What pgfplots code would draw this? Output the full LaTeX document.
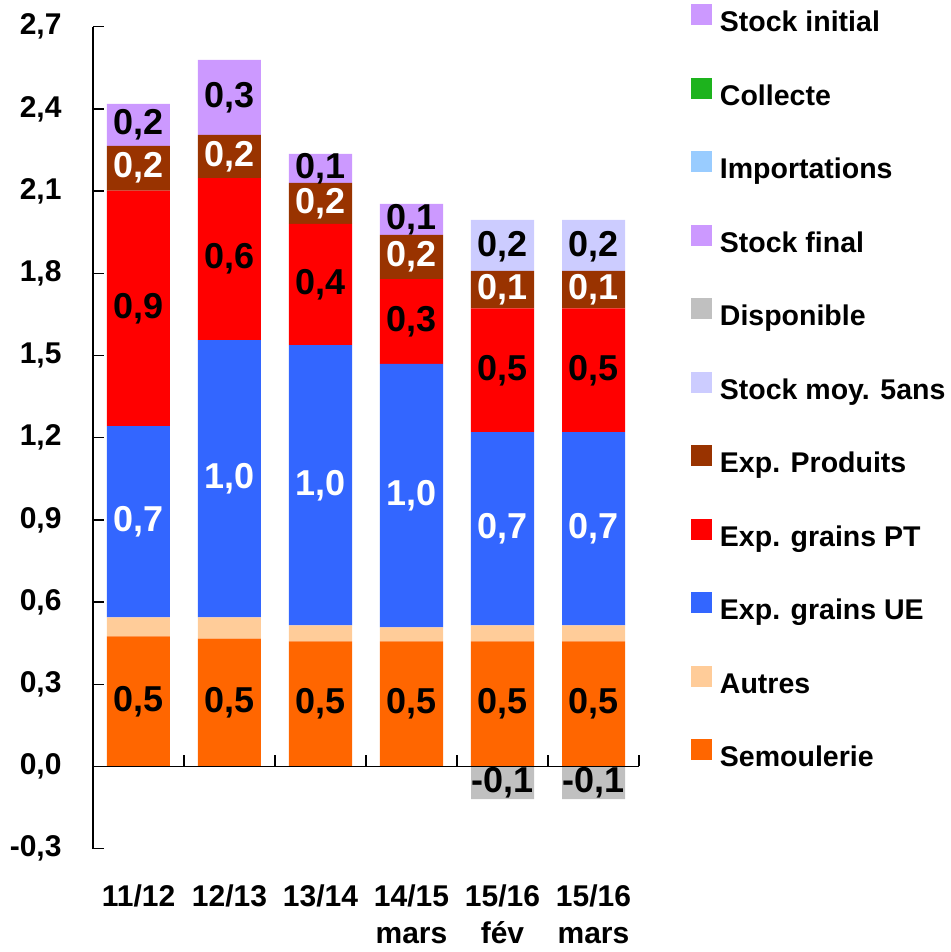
\documentclass[border=0pt]{standalone}
\usepackage{fontspec}
\setmainfont{Liberation Sans}
\usepackage{pgfplots}
\pgfplotsset{compat=1.18}
\definecolor{csem}{HTML}{FF6600}
\definecolor{caut}{HTML}{FFCC99}
\definecolor{cue}{HTML}{3366FF}
\definecolor{cpt}{HTML}{FF0000}
\definecolor{cprod}{HTML}{993300}
\definecolor{cstock}{HTML}{CC99FF}
\definecolor{cdisp}{HTML}{C0C0C0}
\definecolor{cmoy}{HTML}{CCCCFF}
\definecolor{cimp}{HTML}{99CCFF}
\definecolor{ccol}{HTML}{1DB31D}
\pgfplotsset{
  base/.style={
    at={(0pt,0pt)}, anchor=south west,
    scale only axis, width=546pt, height=822pt,
    xmin=-0.5, xmax=5.5, ymin=-0.3, ymax=2.7,
  },
  lab/.style={forget plot, draw=none, mark=none, nodes near coords,
    point meta=explicit symbolic,
    every node near coord/.append style={anchor=center, inner sep=0pt,
      font=\fontsize{36}{36}\selectfont\bfseries, text=#1}},
}
\begin{document}
\begin{tikzpicture}
\useasboundingbox (-93pt,-103.3pt) rectangle (857pt,848.7pt);
% axis A: Disponible, x tick labels, legend
\begin{axis}[base,
  axis x line*=bottom, axis y line=none,
  x axis line style={draw=none},
  xtick={0,...,5},
  xticklabels={11/12,12/13,13/14,{14/15\\mars},{15/16\\fév},{15/16\\mars}},
  x tick style={draw=none},
  xticklabel style={font=\fontsize{30}{37}\selectfont\bfseries, align=center, yshift=-33pt},
  legend style={at={(1.0952,1.0275)}, anchor=north west, draw=none, fill=none,
    inner sep=0pt, outer sep=0pt,
    font=\fontsize{28.5}{30}\selectfont\bfseries, row sep=40pt, column sep=8pt,
    nodes={inner sep=0pt, text height=21pt, text depth=6pt}},
  legend cell align=left,
  legend image code/.code={\fill[#1] (0pt,-1pt) rectangle (21pt,20pt);},
]
\addlegendimage{fill=cstock, draw=none}\addlegendentry{Stock initial}
\addlegendimage{fill=ccol, draw=none}\addlegendentry{Collecte}
\addlegendimage{fill=cimp, draw=none}\addlegendentry{Importations}
\addlegendimage{fill=cstock, draw=none}\addlegendentry{Stock final}
\addlegendimage{fill=cdisp, draw=none}\addlegendentry{Disponible}
\addlegendimage{fill=cmoy, draw=none}\addlegendentry{Stock moy. 5ans}
\addlegendimage{fill=cprod, draw=none}\addlegendentry{Exp. Produits}
\addlegendimage{fill=cpt, draw=none}\addlegendentry{Exp. grains PT}
\addlegendimage{fill=cue, draw=none}\addlegendentry{Exp. grains UE}
\addlegendimage{fill=caut, draw=none}\addlegendentry{Autres}
\addlegendimage{fill=csem, draw=none}\addlegendentry{Semoulerie}
\addplot[forget plot, ybar, bar width=63pt, bar shift=0pt, fill=cdisp, draw=none]
  coordinates {(4,-0.119) (5,-0.119)};
\end{axis}
% axis B: stacked bars and axis lines
\begin{axis}[base,
  ybar stacked, bar width=63pt,
  axis x line*=middle, axis y line*=left,
  x axis line style={-, line width=1.3pt},
  y axis line style={-, line width=1.3pt},
  xtick={0.5,1.5,...,5.5}, xticklabels={},
  ytick={-0.3,0,0.3,0.6,0.9,1.2,1.5,1.8,2.1,2.4,2.7},
  tick align=inside,
  major tick length=11pt,
  tick style={black, line width=1.3pt},
  axis on top,
  yticklabel style={font=\fontsize{30}{30}\selectfont\bfseries, xshift=-28pt,
     /pgf/number format/.cd, fixed, fixed zerofill, precision=1, use comma, assume math mode=true},
]
\addplot[fill=csem, draw=none] coordinates {(0,0.475) (1,0.467) (2,0.457) (3,0.457) (4,0.457) (5,0.457)};
\addplot[fill=caut, draw=none] coordinates {(0,0.069) (1,0.077) (2,0.058) (3,0.051) (4,0.058) (5,0.058)};
\addplot[fill=cue, draw=none] coordinates {(0,0.698) (1,1.012) (2,1.023) (3,0.961) (4,0.705) (5,0.705)};
\addplot[fill=cpt, draw=none] coordinates {(0,0.860) (1,0.591) (2,0.442) (3,0.310) (4,0.452) (5,0.452)};
\addplot[fill=cprod, draw=none] coordinates {(0,0.163) (1,0.158) (2,0.150) (3,0.161) (4,0.137) (5,0.137)};
\addplot[fill=cstock, draw=none] coordinates {(0,0.153) (1,0.274) (2,0.106) (3,0.113) (4,0) (5,0)};
\addplot[fill=cmoy, draw=none] coordinates {(0,0) (1,0) (2,0) (3,0) (4,0.186) (5,0.186)};
\end{axis}
% axis C: value labels
\begin{axis}[base, hide axis]
\addplot[lab=black] coordinates {
  (0,0.2375)[0,5] (1,0.2335)[0,5] (2,0.2285)[0,5] (3,0.2285)[0,5] (4,0.2285)[0,5] (5,0.2285)[0,5]
  (0,1.672)[0,9] (1,1.8515)[0,6] (2,1.759)[0,4] (3,1.624)[0,3] (4,1.446)[0,5] (5,1.446)[0,5]
  (0,2.3415)[0,2] (1,2.442)[0,3] (2,2.183)[0,1] (3,1.9965)[0,1] (4,1.898)[0,2] (5,1.898)[0,2]
  (4,-0.0595)[-0,1] (5,-0.0595)[-0,1]
};
\addplot[lab=white] coordinates {
  (0,0.893)[0,7] (1,1.05)[1,0] (2,1.0265)[1,0] (3,0.9885)[1,0] (4,0.8675)[0,7] (5,0.8675)[0,7]
  (0,2.1835)[0,2] (1,2.226)[0,2] (2,2.055)[0,2] (3,1.8595)[0,2] (4,1.741)[0,1] (5,1.741)[0,1]
};
\end{axis}
\end{tikzpicture}
\end{document}
